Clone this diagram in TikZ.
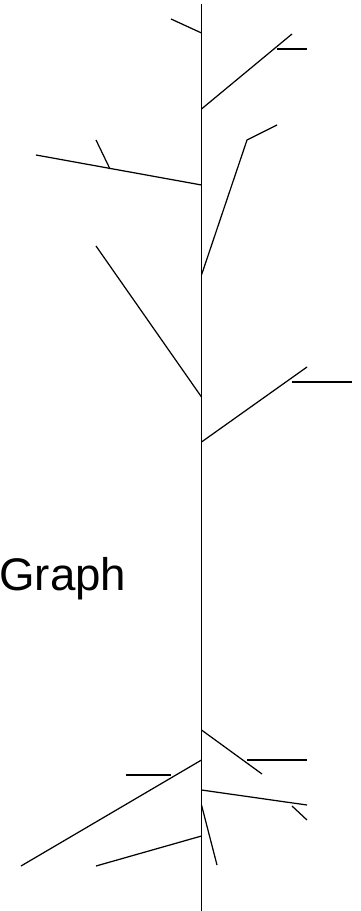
\documentclass[tikz,border=0pt]{standalone}
\usepackage{fontspec}
\setmainfont{Liberation Sans}
\usepackage{tikz}

\begin{document}
\begin{tikzpicture}[
    x=0.02cm, y=-0.02cm,
    stick/.style={line width=0.7pt},
    title/.style={font=\fontsize{26}{30}\selectfont, anchor=base west, inner sep=0pt}
]

\useasboundingbox (0,0) rectangle (361,911);

% Trunk
\coordinate (top) at (201.5,4);
\coordinate (bottom) at (201.5,911);
\draw[stick] (top) -- (bottom);

% Points on the trunk
\coordinate (t1) at (201.5,33);
\coordinate (t2) at (201.5,109);
\coordinate (t3) at (201.5,185);
\coordinate (t4) at (201.5,275);
\coordinate (t5) at (201.5,397);
\coordinate (t6) at (201.5,442);
\coordinate (t7) at (201.5,730);
\coordinate (t8) at (201.5,760);
\coordinate (t9) at (201.5,790);
\coordinate (t10) at (201.5,805);
\coordinate (t11) at (201.5,836);

% Branch ends
\coordinate (a1) at (171,19);
\coordinate (b1) at (292,34);
\coordinate (b2) at (277,49);
\coordinate (b3) at (307,49);
\coordinate (c1) at (36,155);
\coordinate (c2) at (110,169);
\coordinate (c3) at (96,140);
\coordinate (d1) at (247,140);
\coordinate (d2) at (277,125);
\coordinate (e1) at (96,246);
\coordinate (f1) at (307,367);
\coordinate (f2) at (292,382);
\coordinate (f3) at (352,382);
\coordinate (g1) at (262,774);
\coordinate (g2) at (247,760);
\coordinate (g3) at (307,760);
\coordinate (h1) at (21,866);
\coordinate (h2) at (126,775);
\coordinate (h3) at (171,775);
\coordinate (i1) at (307,805);
\coordinate (i2) at (292,806);
\coordinate (i3) at (307,820);
\coordinate (j1) at (217,865);
\coordinate (k1) at (96,866);

% Branches
\draw[stick] (t1) -- (a1);
\draw[stick] (t2) -- (b1);
\draw[stick] (b2) -- (b3);
\draw[stick] (t3) -- (c1);
\draw[stick] (c2) -- (c3);
\draw[stick] (t4) -- (d1) -- (d2);
\draw[stick] (t5) -- (e1);
\draw[stick] (t6) -- (f1);
\draw[stick] (f2) -- (f3);
\draw[stick] (t7) -- (g1);
\draw[stick] (g2) -- (g3);
\draw[stick] (t8) -- (h1);
\draw[stick] (h2) -- (h3);
\draw[stick] (t9) -- (i1);
\draw[stick] (i2) -- (i3);
\draw[stick] (t10) -- (j1);
\draw[stick] (t11) -- (k1);

% Label
\node[title] (graph) at (-1,590) {Graph};

\end{tikzpicture}
\end{document}
